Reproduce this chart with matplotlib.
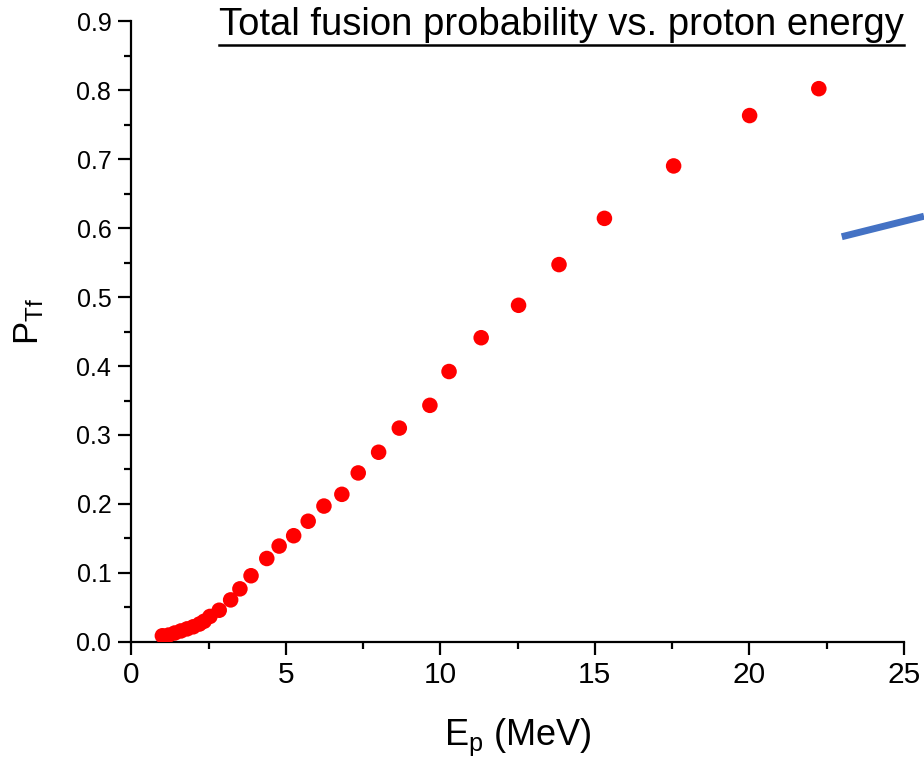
import numpy as np
import matplotlib
matplotlib.use("Agg")
import matplotlib.pyplot as plt
from matplotlib.lines import Line2D
from matplotlib.ticker import MultipleLocator

plt.rcParams['font.family'] = ['Liberation Sans', 'DejaVu Sans']
plt.rcParams['mathtext.fontset'] = 'custom'
plt.rcParams['mathtext.rm'] = 'Liberation Sans'
plt.rcParams['mathtext.it'] = 'Liberation Sans:italic'

# Datos
energia = [1.00, 1.20, 1.40, 1.60, 1.80, 2.00, 2.20, 2.35, 2.54, 2.84, 3.21,
           3.51, 3.87, 4.38, 4.78, 5.25, 5.72, 6.23, 6.81, 7.34, 8.00, 8.67,
           9.66, 10.28, 11.32, 12.53, 13.84, 15.31, 17.55, 20.01, 22.25]
prob = [0.009, 0.010, 0.013, 0.016, 0.019, 0.022, 0.026, 0.030, 0.037, 0.046,
        0.061, 0.077, 0.096, 0.121, 0.139, 0.154, 0.175, 0.197, 0.214, 0.245,
        0.275, 0.310, 0.343, 0.392, 0.441, 0.488, 0.547, 0.614, 0.690, 0.763,
        0.802]

titulo = "Total fusion probability vs. proton energy"

fig = plt.figure(figsize=(9.24, 7.6), dpi=100)
ax = fig.add_axes([0.1423, 0.1553, 0.8358, 0.817])

ax.scatter(energia, prob, s=125, color='#ff0000', edgecolors='none', zorder=3)

ax.set_xlim(0, 25)
ax.set_ylim(0, 0.9)
ax.xaxis.set_major_locator(MultipleLocator(5))
ax.xaxis.set_minor_locator(MultipleLocator(2.5))
ax.yaxis.set_major_locator(MultipleLocator(0.1))
ax.yaxis.set_minor_locator(MultipleLocator(0.05))
ax.yaxis.set_major_formatter(matplotlib.ticker.FormatStrFormatter('%.1f'))

for s in ['top', 'right']:
    ax.spines[s].set_visible(False)
for s in ['left', 'bottom']:
    ax.spines[s].set_linewidth(1.6)

ax.tick_params(which='major', direction='out', length=9.5, width=1.6)
ax.tick_params(which='minor', direction='out', length=5, width=1.6)
ax.tick_params(axis='x', labelsize=21.5, pad=4)
ax.tick_params(axis='y', labelsize=18, pad=5)

ax.set_xlabel(r'E$_\mathrm{p}$ (MeV)', fontsize=26)
ax.set_ylabel(r'P$_\mathrm{Tf}$', fontsize=25)
ax.xaxis.set_label_coords(0.5, -0.12)
ax.yaxis.set_label_coords(-0.111, 0.517)

t = fig.text(0.978, 0.954, titulo, fontsize=27.5, ha='right', va='baseline')

# subrayado del titulo
fig.canvas.draw()
bb = t.get_window_extent().transformed(fig.transFigure.inverted())
fig.add_artist(Line2D([bb.x0, bb.x1], [bb.y0 - 0.003, bb.y0 - 0.003],
                      color='black', lw=1.8, transform=fig.transFigure))

# flecha azul cortada en el borde
fig.add_artist(Line2D([0.911, 1.0], [0.6885, 0.7155], color='#4472c4',
                      lw=5, solid_capstyle='butt', transform=fig.transFigure))

fig.savefig('out.png', dpi=100)
